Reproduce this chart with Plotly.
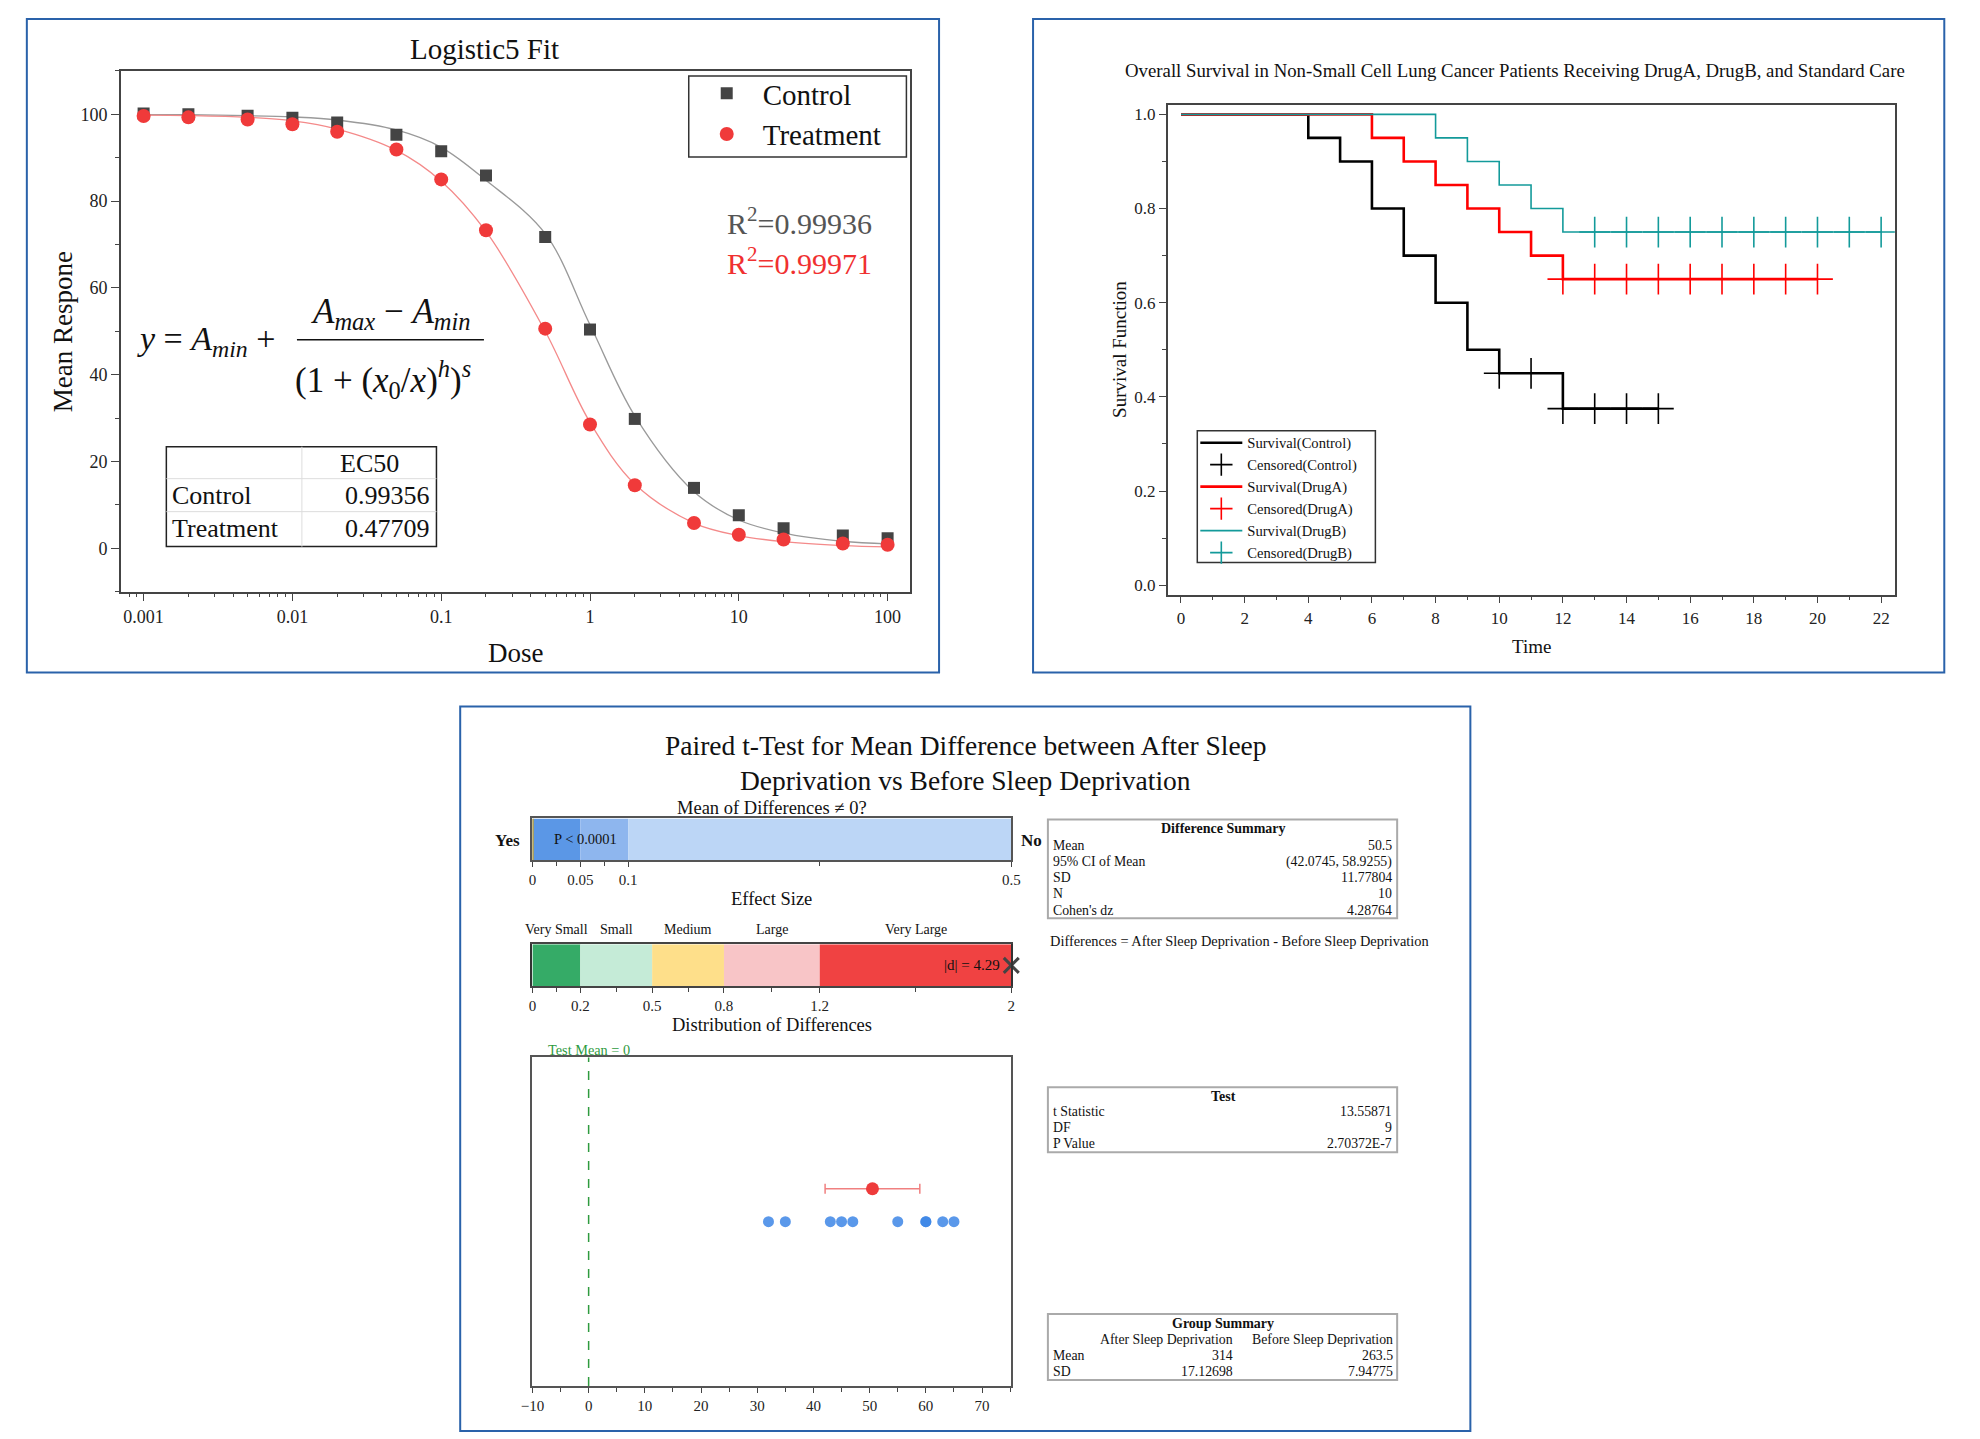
import plotly.graph_objects as go

W, H = 1980, 1439
FONT = "Liberation Serif"

# ---- panel 1: logistic5 fit ----
dose = [0.001, 0.002, 0.005, 0.01, 0.02, 0.05, 0.1, 0.2, 0.5, 1, 2, 5, 10, 20, 50, 100]
control = [100.2, 100.0, 99.7, 99.2, 98.1, 95.3, 91.5, 85.9, 71.7, 50.4, 29.8, 13.9, 7.6, 4.6, 2.9, 2.3]
treatment = [99.6, 99.3, 98.8, 97.7, 96.0, 91.9, 85.0, 73.3, 50.6, 28.5, 14.5, 5.8, 3.1, 2.0, 1.1, 0.8]
control_fit = [99.9, 99.9, 99.7, 99.4, 98.7, 96.4, 92.4, 84.8, 72.5, 51.5, 30.5, 13.0, 6.5, 3.5, 1.6, 1.0]
treatment_fit = [99.8, 99.7, 99.3, 98.5, 96.6, 91.7, 84.6, 73.0, 50.0, 29.0, 14.8, 5.8, 2.9, 1.5, 0.6, 0.3]
r2 = {"Control": "0.99936", "Treatment": "0.99971"}
ec50 = {"Control": "0.99356", "Treatment": "0.47709"}

# ---- panel 2: Kaplan-Meier ----
km_groups = ["Control", "DrugA", "DrugB"]
km_colors = {"Control": "#000000", "DrugA": "#FF0000", "DrugB": "#139A9A"}
km_widths = {"Control": 2.6, "DrugA": 2.6, "DrugB": 1.6}
km_time = {
    "Control": [0, 4, 5, 6, 7, 8, 9, 10, 12, 15],
    "DrugA": [0, 6, 7, 8, 9, 10, 11, 12, 20],
    "DrugB": [0, 8, 9, 10, 11, 12, 22],
}
km_surv = {
    "Control": [1.0, 0.95, 0.90, 0.80, 0.70, 0.60, 0.50, 0.45, 0.375, 0.375],
    "DrugA": [1.0, 0.95, 0.90, 0.85, 0.80, 0.75, 0.70, 0.65, 0.65],
    "DrugB": [1.0, 0.95, 0.90, 0.85, 0.80, 0.75, 0.75],
}
cens_time = {
    "Control": [10, 11, 12, 13, 14, 15],
    "DrugA": [12, 13, 14, 15, 16, 17, 18, 19, 20],
    "DrugB": [13, 14, 15, 16, 17, 18, 19, 20, 21, 22],
}
cens_surv = {
    "Control": [0.45, 0.45, 0.375, 0.375, 0.375, 0.375],
    "DrugA": [0.65] * 9,
    "DrugB": [0.75] * 10,
}

# ---- panel 3: paired t-test ----
p_edges = [0, 0.05, 0.1, 0.5]
p_colors = ["#5B97E6", "#8EB6EE", "#BCD6F6"]
p_value = 2.70372e-7
es_edges = [0, 0.2, 0.5, 0.8, 1.2, 2]
es_labels = ["Very Small", "Small", "Medium", "Large", "Very Large"]
es_colors = ["#35AB67", "#C5EBD7", "#FEDF8A", "#F8C5C7", "#F04242"]
cohen_d = 4.29
differences = [32, 35, 43, 45, 47, 55, 60, 60, 63, 65]
diff_mean = 50.5
ci_low, ci_high = 42.0745, 58.9255
test_mean = 0

diff_summary = [("Mean", "50.5"), ("95% CI of Mean", "(42.0745, 58.9255)"),
                ("SD", "11.77804"), ("N", "10"), ("Cohen's dz", "4.28764")]
test_rows = [("t Statistic", "13.55871"), ("DF", "9"), ("P Value", "2.70372E-7")]
group_cols = ["After Sleep Deprivation", "Before Sleep Deprivation"]
group_rows = [("Mean", "314", "263.5"), ("SD", "17.12698", "7.94775")]


def px(x):
    return x / W


def py(y):
    return 1 - y / H


annotations = []
shapes = []


def ann(text, x, y, size, xanchor="center", color="#111", angle=0, **kw):
    annotations.append(dict(text=text, x=px(x), y=py(y), xref="paper", yref="paper",
                            xanchor=xanchor, yanchor="middle", showarrow=False,
                            textangle=angle, font=dict(family=FONT, size=size, color=color), **kw))


def box(x0, y0, x1, y1, color, width=1.5):
    shapes.append(dict(type="rect", xref="paper", yref="paper", x0=px(x0), x1=px(x1),
                       y0=py(y1), y1=py(y0), line=dict(color=color, width=width), layer="above"))


def hline(x0, x1, y, color, width=1):
    shapes.append(dict(type="line", xref="paper", yref="paper", x0=px(x0), x1=px(x1),
                       y0=py(y), y1=py(y), line=dict(color=color, width=width)))


fig = go.Figure()

# panel 1
fig.add_trace(go.Scatter(x=dose, y=control_fit, mode="lines", line=dict(color="#9A9A9A", width=1.3, shape="spline"),
                         showlegend=False, xaxis="x", yaxis="y"))
fig.add_trace(go.Scatter(x=dose, y=treatment_fit, mode="lines", line=dict(color="#F48A8A", width=1.3, shape="spline"),
                         showlegend=False, xaxis="x", yaxis="y"))
fig.add_trace(go.Scatter(x=dose, y=control, mode="markers", name="Control",
                         marker=dict(symbol="square", size=12, color="#444444"), xaxis="x", yaxis="y"))
fig.add_trace(go.Scatter(x=dose, y=treatment, mode="markers", name="Treatment",
                         marker=dict(symbol="circle", size=14, color="#F03A3A"), xaxis="x", yaxis="y"))

# panel 2
for g in km_groups:
    c = km_colors[g]
    fig.add_trace(go.Scatter(x=km_time[g], y=km_surv[g], mode="lines", name=f"Survival({g})",
                             line=dict(color=c, width=km_widths[g], shape="hv"),
                             xaxis="x2", yaxis="y2", legend="legend2"))
    fig.add_trace(go.Scatter(x=cens_time[g], y=cens_surv[g], mode="markers", name=f"Censored({g})",
                             marker=dict(symbol="cross-thin", size=22, color=c, line=dict(color=c, width=1.6)),
                             xaxis="x2", yaxis="y2", legend="legend2"))

# panel 3: p-value bar
fig.add_trace(go.Bar(x=[b - a for a, b in zip(p_edges[:-1], p_edges[1:])], base=p_edges[:-1],
                     y=[0] * len(p_colors), orientation="h", width=1, marker=dict(color=p_colors, line=dict(width=0)),
                     showlegend=False, xaxis="x3", yaxis="y3"))
fig.add_trace(go.Scatter(x=[p_value, p_value], y=[-0.5, 0.5], mode="lines", line=dict(color="#C9A227", width=2.5),
                         showlegend=False, xaxis="x3", yaxis="y3"))

# effect size bar
fig.add_trace(go.Bar(x=[b - a for a, b in zip(es_edges[:-1], es_edges[1:])], base=es_edges[:-1],
                     y=[0] * len(es_colors), orientation="h", width=1, marker=dict(color=es_colors, line=dict(width=0)),
                     showlegend=False, xaxis="x4", yaxis="y4"))
fig.add_trace(go.Scatter(x=[min(cohen_d, es_edges[-1])], y=[0], mode="markers", cliponaxis=False,
                         marker=dict(symbol="x-thin", size=15, line=dict(color="#444", width=3)),
                         showlegend=False, xaxis="x4", yaxis="y4"))

# distribution
fig.add_trace(go.Scatter(x=[test_mean, test_mean], y=[0, 1], mode="lines",
                         line=dict(color="#2E9B3E", width=1.5, dash="dash"), showlegend=False, xaxis="x5", yaxis="y5"))
fig.add_trace(go.Scatter(x=differences, y=[0.5] * len(differences), mode="markers",
                         marker=dict(size=11, color="#3D86E6", opacity=0.85), showlegend=False, xaxis="x5", yaxis="y5"))
fig.add_trace(go.Scatter(x=[diff_mean], y=[0.6], mode="markers",
                         marker=dict(size=13, color="#EE3B3B"),
                         error_x=dict(type="data", symmetric=False, array=[ci_high - diff_mean],
                                      arrayminus=[diff_mean - ci_low], color="#F08080", thickness=1.5, width=5),
                         showlegend=False, xaxis="x5", yaxis="y5"))

axis_common = dict(showline=True, mirror=True, linecolor="#444", linewidth=1.5, ticks="outside",
                   tickcolor="#444", showgrid=False, zeroline=False,
                   tickfont=dict(family=FONT, size=18, color="#222"))
small_tick = dict(family=FONT, size=15, color="#222")

fig.update_layout(
    width=W, height=H, margin=dict(l=0, r=0, t=0, b=0),
    paper_bgcolor="white", plot_bgcolor="white", barmode="overlay",
    font=dict(family=FONT, color="#111"),
    xaxis=dict(axis_common, type="log", domain=[px(110), px(908)], range=[-3.153, 2.153], dtick=1,
               ticklen=8, minor=dict(ticks="outside", ticklen=4, dtick="D1", tickcolor="#444"), anchor="y"),
    yaxis=dict(axis_common, domain=[py(592), py(71)], range=[-10, 110], dtick=20, ticklen=8,
               minor=dict(ticks="outside", ticklen=4, dtick=10, tickcolor="#444"), anchor="x"),
    xaxis2=dict(axis_common, domain=[px(1168), px(1903)], range=[-0.42, 22.43], dtick=2, ticklen=7,
                tickfont=dict(family=FONT, size=17, color="#222"),
                minor=dict(ticks="outside", ticklen=4, dtick=1, tickcolor="#444"), anchor="y2"),
    yaxis2=dict(axis_common, domain=[py(595), py(105)], range=[-0.02, 1.02], dtick=0.2, tickformat=".1f",
                ticklen=7, tickfont=dict(family=FONT, size=17, color="#222"),
                minor=dict(ticks="outside", ticklen=4, dtick=0.1, tickcolor="#444"), anchor="x2"),
    xaxis3=dict(axis_common, domain=[px(526), px(1010)], range=[0, 0.5], tickvals=[0, 0.05, 0.1, 0.5],
                ticktext=["0", "0.05", "0.1", "0.5"], ticklen=5, linecolor="#555", tickfont=small_tick,
                minor=dict(ticks="outside", ticklen=4, tickvals=[0.025, 0.075, 0.3], tickcolor="#444"),
                anchor="y3"),
    yaxis3=dict(domain=[py(861), py(819)], range=[-0.5, 0.5], showline=True, mirror=True, linecolor="#555",
                linewidth=1.5, showticklabels=False, showgrid=False, zeroline=False, anchor="x3"),
    xaxis4=dict(axis_common, domain=[px(526), px(1010)], range=[0, 2], tickvals=es_edges,
                ticktext=[str(v) for v in es_edges], ticklen=5, tickfont=small_tick,
                minor=dict(ticks="outside", ticklen=4,
                           tickvals=[(a + b) / 2 for a, b in zip(es_edges[:-1], es_edges[1:])], tickcolor="#444"),
                anchor="y4"),
    yaxis4=dict(domain=[py(987), py(945)], range=[-0.5, 0.5], showline=True, mirror=True, linecolor="#333",
                linewidth=1.5, showticklabels=False, showgrid=False, zeroline=False, anchor="x4"),
    xaxis5=dict(axis_common, domain=[px(526), px(1010)], range=[-10, 75.2], dtick=10, ticklen=5,
                linecolor="#555", tickfont=small_tick,
                minor=dict(ticks="outside", ticklen=4, dtick=5, tickcolor="#444"), anchor="y5"),
    yaxis5=dict(domain=[py(1387), py(1058)], range=[0, 1], showline=True, mirror=True, linecolor="#555",
                linewidth=1.5, showticklabels=False, showgrid=False, zeroline=False, anchor="x5"),
    legend=dict(x=px(686), y=py(68), xanchor="left", yanchor="top", bgcolor="rgba(0,0,0,0)",
                borderwidth=0, itemwidth=62,
                font=dict(family=FONT, size=29, color="#111")),
    legend2=dict(x=px(1196), y=py(427), xanchor="left", yanchor="top", bgcolor="rgba(0,0,0,0)",
                 borderwidth=0, itemwidth=42, tracegroupgap=0,
                 font=dict(family=FONT, size=14.6, color="#111")),
)

# panel frames
box(15, 19, 937, 673, "#2A62AA", 2)
box(1032, 19, 1953, 673, "#2A62AA", 2)
box(453, 707, 1474, 1432, "#2A62AA", 2)

# legend frames
box(684, 76, 904, 157, "#333", 1.5)
box(1198, 431, 1378, 563, "#333", 1.5)

# panel 1 text
ann("Logistic5 Fit", 478, 49, 29)
ann("Dose", 509, 653, 27)
ann("Mean Respone", 51, 332, 27, angle=-90)
ann("R<sup>2</sup>=" + r2["Control"], 721, 221, 30, xanchor="left", color="#555555")
ann("R<sup>2</sup>=" + r2["Treatment"], 721, 261, 30, xanchor="left", color="#F03030")
ann("<i>y</i> = <i>A</i><sub><i>min</i></sub> +", 124, 341, 34, xanchor="left")
ann("<i>A</i><sub><i>max</i></sub> − <i>A</i><sub><i>min</i></sub>", 383, 314, 35)
hline(288, 477, 340, "#111", 1.5)
ann("(1 + (<i>x</i><sub>0</sub>/<i>x</i>)<sup><i>h</i></sup>)<sup><i>s</i></sup>", 375, 380, 35)
# EC50 table
box(156, 447, 429, 547, "#222", 1.5)
shapes.append(dict(type="line", xref="paper", yref="paper", x0=px(293), x1=px(293), y0=py(547), y1=py(447),
                   line=dict(color="#DDDDDD", width=1)))
hline(156, 429, 479, "#DDDDDD", 1)
hline(156, 429, 512, "#DDDDDD", 1)
ann("EC50", 361, 464, 26)
for i, g in enumerate(["Control", "Treatment"]):
    ann(g, 160, 496 + 33 * i, 26, xanchor="left")
    ann(ec50[g], 425, 496 + 33 * i, 26, xanchor="right")

# panel 2 text
ann("Overall Survival in Non-Small Cell Lung Cancer Patients Receiving DrugA, DrugB, and Standard Care",
    1519, 71, 18.8)
ann("Time", 1536, 647, 19)
ann("Survival Function", 1120, 350, 19, angle=-90)

# panel 3 text
ann("Paired t-Test for Mean Difference between After Sleep", 964, 746, 27.5)
ann("Deprivation vs Before Sleep Deprivation", 964, 781, 27.5)
ann("Mean of Differences ≠ 0?", 768, 809, 18.5)
ann("<b>Yes</b>", 501, 841, 17)
ann("<b>No</b>", 1030, 841, 17)
annotations.append(dict(text="P < 0.0001", x=0.055, y=0, xref="x3", yref="y3", showarrow=False,
                        font=dict(family=FONT, size=14.5, color="#111")))
ann("Effect Size", 768, 900, 18.5)
for lab, a, b in zip(es_labels, es_edges[:-1], es_edges[1:]):
    annotations.append(dict(text=lab, x=(a + b) / 2, y=py(930), xref="x4", yref="paper", showarrow=False,
                            yanchor="middle", font=dict(family=FONT, size=14, color="#111")))
annotations.append(dict(text=f"|d| = {cohen_d}", x=es_edges[-1], y=0, xref="x4", yref="y4", xanchor="right",
                        xshift=-9, showarrow=False, font=dict(family=FONT, size=15, color="#111")))
ann("Distribution of Differences", 768, 1026, 18.5)
annotations.append(dict(text=f"Test Mean = {test_mean}", x=test_mean, y=py(1051), xref="x5", yref="paper",
                        showarrow=False, yanchor="middle", font=dict(family=FONT, size=14.3, color="#2E9B3E")))

# tables
TS = 13.8
TX0, TX1 = 1047, 1400
box(TX0, 820, TX1, 919, "#AAAAAA", 2)
ann("<b>Difference Summary</b>", 1224, 829, 14)
for i, (k, v) in enumerate(diff_summary):
    ann(k, 1050, 846 + 16.2 * i, TS, xanchor="left")
    ann(v, 1397, 846 + 16.2 * i, TS, xanchor="right")
ann("Differences = After Sleep Deprivation - Before Sleep Deprivation", 1047, 942, 14.4, xanchor="left")

box(TX0, 1088, TX1, 1153, "#AAAAAA", 2)
ann("<b>Test</b>", 1224, 1097, 14)
for i, (k, v) in enumerate(test_rows):
    ann(k, 1050, 1112 + 16.2 * i, TS, xanchor="left")
    ann(v, 1397, 1112 + 16.2 * i, TS, xanchor="right")

box(TX0, 1315, TX1, 1381, "#AAAAAA", 2)
ann("<b>Group Summary</b>", 1224, 1324, 14)
ann(group_cols[0], 1236, 1340, TS, xanchor="right")
ann(group_cols[1], 1398, 1340, TS, xanchor="right")
for i, (k, a, b) in enumerate(group_rows):
    ann(k, 1050, 1356 + 16.2 * i, TS, xanchor="left")
    ann(a, 1236, 1356 + 16.2 * i, TS, xanchor="right")
    ann(b, 1398, 1356 + 16.2 * i, TS, xanchor="right")

fig.update_layout(annotations=annotations, shapes=shapes)
fig.write_html("out.html", config={"displayModeBar": False},
               post_script="document.body.style.margin='0px';"
                           "document.body.style.overflow='hidden';"
                           "document.documentElement.style.overflow='hidden';")
